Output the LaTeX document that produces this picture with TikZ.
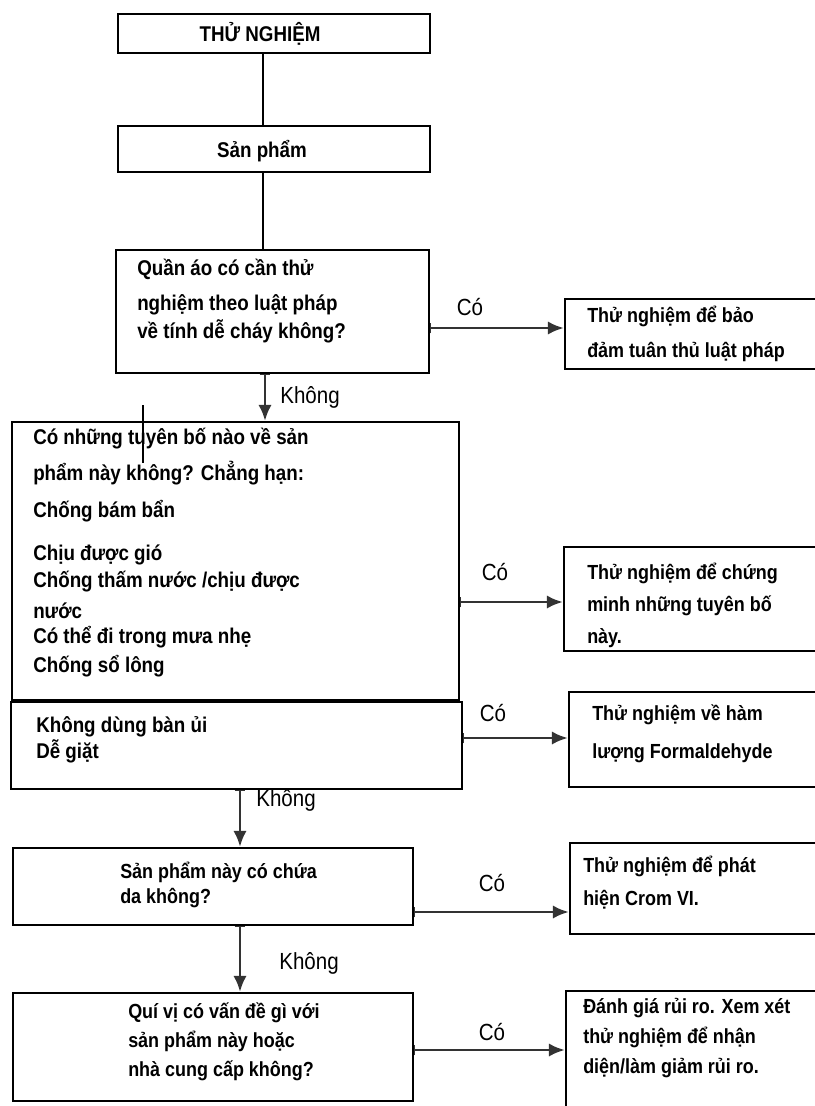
\documentclass[tikz,border=0pt]{standalone}
\usepackage{fontspec}
\setmainfont{Liberation Sans}
\newfontfamily\narrowfont[FakeStretch=0.88]{Liberation Sans}
\usetikzlibrary{fit,arrows.meta}

\tikzset{
  box/.style={draw, line width=1.6pt, inner sep=0pt},
  txt/.style={font=\narrowfont\fontsize{16}{18.75}\selectfont\bfseries, align=left, inner sep=0pt, anchor=west},
  rtxt/.style={txt, font=\narrowfont\fontsize{15.3}{18.75}\selectfont\bfseries},
  ttl/.style={font=\narrowfont\fontsize{16}{18.75}\selectfont\bfseries, inner sep=0pt},
  lbl/.style={font=\narrowfont\fontsize{17.5}{18}\selectfont, inner sep=0pt},
  link/.style={line width=1.6pt},
  arr/.style={line width=2.2pt, black!80, {Bar[width=8pt,line width=1pt]}-{Latex[length=12pt,width=10pt]}}
}

\begin{document}
\begin{tikzpicture}[x=0.75pt, y=-0.75pt]
  \useasboundingbox (0,0) rectangle (814,1106);

  % main column
  \node[box, fit={(118,14) (430,53)}] (test) {};
  \node[ttl] (testt) at (260,34) {THỬ NGHIỆM};
  \node[box, fit={(118,126) (430,172)}] (prod) {};
  \node[ttl] (prodt) at (262,151) {Sản phẩm};
  \node[box, fit={(116,250) (429,373)}] (q1) {};
  \node[txt] (q1t) at (137,301) {Quần áo có cần thử\\[7.5pt]
    nghiệm theo luật pháp\\[2.25pt]
    về tính dễ cháy không?};
  \node[box, fit={(12,422) (459,700)}] (claims) {};
  \node[txt] (claimst) at (33,553) {Có những tuyên bố nào về sản\\[8.25pt]
    phẩm này không? Chẳng hạn:\\[9pt]
    Chống bám bẩn\\[13.5pt]
    Chịu được gió\\[1.5pt]
    Chống thấm nước /chịu được\\[4.5pt]
    nước\\
    Có thể đi trong mưa nhẹ\\[3pt]
    Chống sổ lông};
  \node[box, fit={(11,702) (462,789)}] (iron) {};
  \node[txt] (iront) at (36,740) {Không dùng bàn ủi\\[0.75pt]
    Dễ giặt};
  \node[box, fit={(13,848) (413,925)}] (q3) {};
  \node[rtxt] (q3t) at (120,885) {Sản phẩm này có chứa\\
    da không?};
  \node[box, fit={(13,993) (413,1101)}] (q4) {};
  \node[rtxt] (q4t) at (128,1042) {Quí vị có vấn đề gì với\\[3pt]
    sản phẩm này hoặc\\[3pt]
    nhà cung cấp không?};

  % right column
  \node[box, fit={(565,299) (822,369)}] (r1) {};
  \node[rtxt] (r1t) at (587,334) {Thử nghiệm để bảo\\[7.5pt]
    đảm tuân thủ luật pháp};
  \node[box, fit={(564,547) (822,651)}] (r2) {};
  \node[rtxt] (r2t) at (587,605) {Thử nghiệm để chứng\\[5.25pt]
    minh những tuyên bố\\[5.25pt]
    này.};
  \node[box, fit={(569,692) (822,787)}] (r3) {};
  \node[rtxt] (r3t) at (592,734) {Thử nghiệm về hàm\\[9.75pt]
    lượng Formaldehyde};
  \node[box, fit={(570,843) (822,934)}] (r4) {};
  \node[rtxt] (r4t) at (583,883) {Thử nghiệm để phát\\[6pt]
    hiện Crom VI.};
  \node[box, fit={(566,991) (822,1115)}] (r5) {};
  \node[rtxt] (r5t) at (583,1038) {Đánh giá rủi ro. Xem xét\\[3.75pt]
    thử nghiệm để nhận\\[3.75pt]
    diện/làm giảm rủi ro.};

  % connectors
  \coordinate (spine) at (263,0);
  \coordinate (no1) at (265,0);
  \coordinate (no2) at (240,0);
  \draw[link] (test.south -| spine) -- (prod.north -| spine);
  \draw[link] (prod.south -| spine) -- (q1.north -| spine);
  \draw[arr] (q1.south -| no1) -- (claims.north -| no1);
  \draw[arr] (iron.south -| no2) -- (q3.north -| no2);
  \draw[arr] (q3.south -| no2) -- (q4.north -| no2);

  \coordinate (a1) at (0,328);
  \coordinate (a2) at (0,602);
  \coordinate (a3) at (0,738);
  \coordinate (a4) at (0,912);
  \coordinate (a5) at (0,1050);
  \draw[arr] (q1.east |- a1) -- (r1.west |- a1);
  \draw[arr] (claims.east |- a2) -- (r2.west |- a2);
  \draw[arr] (iron.east |- a3) -- (r3.west |- a3);
  \draw[arr] (q3.east |- a4) -- (r4.west |- a4);
  \draw[arr] (q4.east |- a5) -- (r5.west |- a5);

  \coordinate (s1) at (143,405);
  \coordinate (s2) at (143,463);
  \draw[line width=1.2pt] (s1) -- (s2);

  % labels
  \node[lbl] (yes1) at (470,307) {Có};
  \node[lbl] (yes2) at (495,572) {Có};
  \node[lbl] (yes3) at (493,713) {Có};
  \node[lbl] (yes4) at (492,883) {Có};
  \node[lbl] (yes5) at (492,1032) {Có};
  \node[lbl] (not1) at (310,397) {Không};
  \node[lbl] (not2) at (286,800) {Không};
  \node[lbl] (not3) at (309,963) {Không};
\end{tikzpicture}
\end{document}
